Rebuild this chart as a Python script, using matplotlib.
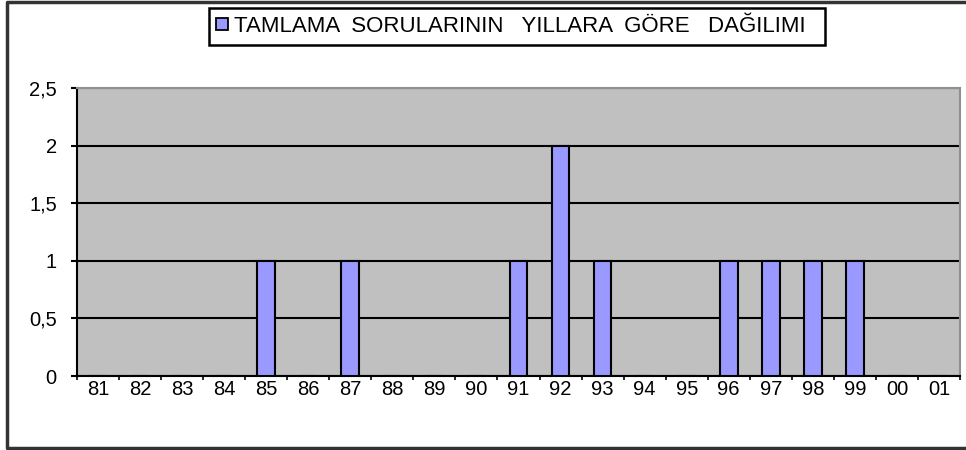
import matplotlib
matplotlib.use("Agg")
import matplotlib.pyplot as plt
from matplotlib.patches import Patch
from matplotlib.lines import Line2D
import numpy as np

years = ["81", "82", "83", "84", "85", "86", "87", "88", "89", "90", "91",
         "92", "93", "94", "95", "96", "97", "98", "99", "00", "01"]
counts = [0, 0, 0, 0, 1, 0, 1, 0, 0, 0, 1, 2, 1, 0, 0, 1, 1, 1, 1, 0, 0]
series_label = "TAMLAMA  SORULARININ   YILLARA  GÖRE   DAĞILIMI"
yticks = [0, 0.5, 1, 1.5, 2, 2.5]
ytick_labels = ["0", "0,5", "1", "1,5", "2", "2,5"]

plt.rcParams['font.family'] = ['Liberation Sans', 'DejaVu Sans']

fig = plt.figure(figsize=(9.66, 4.5), dpi=100)
fig.patch.set_facecolor("white")
ax = fig.add_axes([77/966, 1-376/450, (960-77)/966, (376-88)/450])
ax.set_facecolor("#C0C0C0")

x = np.arange(len(years))
ax.set_axisbelow(True)
ax.yaxis.grid(True, color="black", linewidth=1.5)
ax.bar(x, counts, width=0.42, color="#9999FF", edgecolor="black", linewidth=1.5,
       label=series_label, zorder=3)

ax.set_xlim(-0.5, len(years) - 0.5)
ax.set_ylim(0, 2.5)
ax.set_yticks(yticks)
ax.set_yticklabels(ytick_labels, fontsize=14.5)
ax.set_xticks(x)
ax.set_xticklabels(years, fontsize=14.5)
ax.set_xticks(np.arange(len(years) + 1) - 0.5, minor=True)
ax.tick_params(axis='x', which='major', length=0, pad=3)
ax.tick_params(axis='x', which='minor', length=3, width=1.2, direction='out', color='black')
ax.tick_params(axis='y', length=4.5, width=1.5, pad=10)

for side in ["left", "bottom"]:
    ax.spines[side].set_color("black")
    ax.spines[side].set_linewidth(1.5)
for side in ["top", "right"]:
    ax.spines[side].set_color("#909090")
    ax.spines[side].set_linewidth(1.5)

handle = Patch(facecolor="#9999FF", edgecolor="black", linewidth=1.3)
leg = fig.legend([handle], [series_label + "  "], loc="center", bbox_to_anchor=(517/966, 1-26.5/450),
                 frameon=True, fancybox=False, framealpha=1, edgecolor="black",
                 prop={'family': 'Liberation Sans', 'size': 16},
                 handlelength=0.54, handleheight=0.455, handletextpad=0.25,
                 borderpad=0.35, borderaxespad=0)
leg.get_frame().set_linewidth(1.8)

# outer chart border (top, left, bottom)
bx0, by0, by1 = 7/966, 2/450, 448/450
fig.lines.append(Line2D([1.0, bx0, bx0, 1.0], [1-by0, 1-by0, 1-by1, 1-by1],
                        transform=fig.transFigure, color="#333333", linewidth=2.5))

fig.savefig("out.png", dpi=100)
